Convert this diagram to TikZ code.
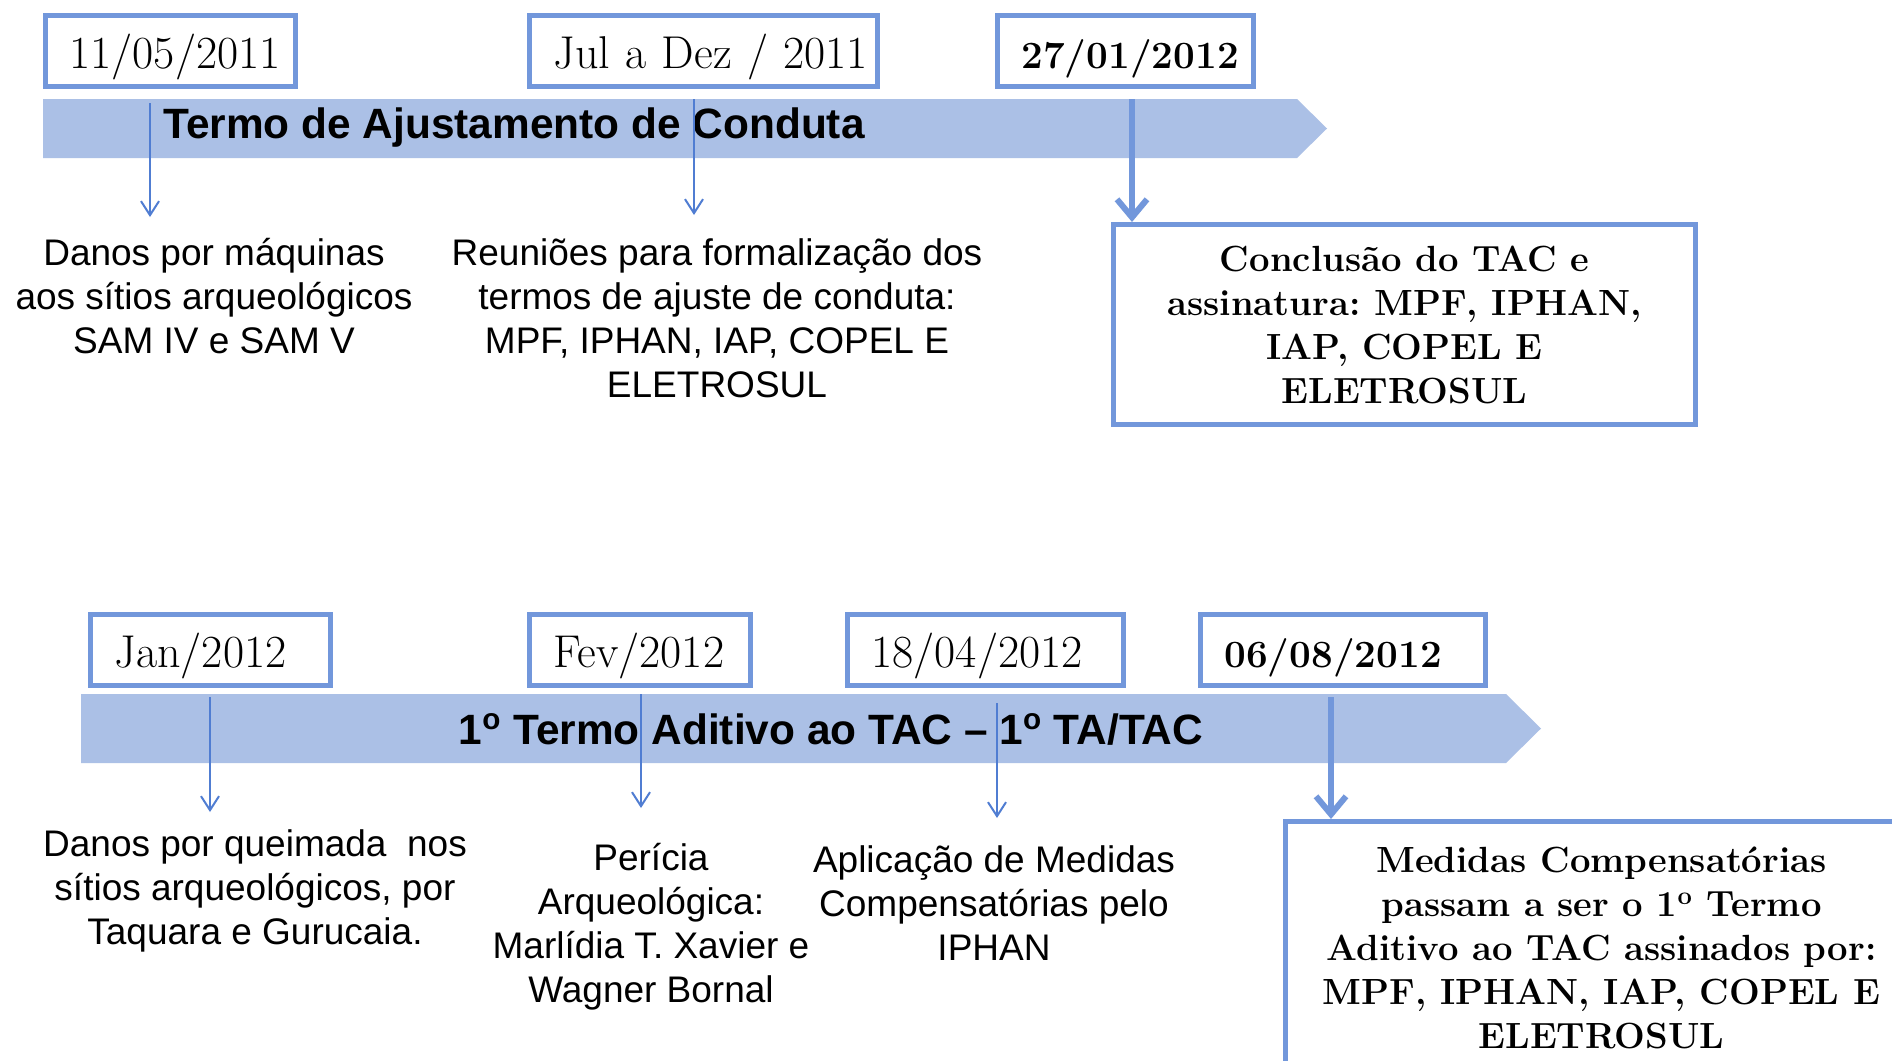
\documentclass[tikz,border=0pt]{standalone}
\usepackage{fontspec}
\newfontfamily\arialf{Liberation Sans}
\usetikzlibrary{arrows.meta}
\definecolor{boxblue}{RGB}{114,151,219}
\definecolor{bannerblue}{RGB}{171,192,230}
\definecolor{arrowblue}{RGB}{80,125,210}
\frenchspacing
\begin{document}
\begin{tikzpicture}[x=0.5pt,y=-0.5pt,
  datebox/.style={draw=boxblue, line width=2.5pt, fill=white, minimum height=35.5pt,
    inner xsep=12pt, inner ysep=0pt, align=left, anchor=north west,
    text height=18.4pt, text depth=0.5pt,
    font=\fontsize{23}{26}\selectfont},
  bolddate/.style={datebox, font=\bfseries\fontsize{19.3}{24}\selectfont},
  resbox/.style={draw=boxblue, line width=2.5pt, fill=white, align=center, anchor=north west,
    inner sep=0pt, font=\bfseries\fontsize{18.2}{22}\selectfont},
  banner/.style={fill=bannerblue, draw=none},
  bannertext/.style={font=\arialf\bfseries\fontsize{21.2}{24}\selectfont, inner sep=0pt},
  desc/.style={font=\arialf\fontsize{18.5}{22}\selectfont, align=center, inner sep=0pt},
  thinarrow/.style={draw=arrowblue, line width=1pt, -{Straight Barb[length=7pt,width=9pt]}},
  thickarrow/.style={draw=boxblue, line width=3pt, -{Straight Barb[length=9pt,width=15pt]}}
]
\useasboundingbox (0,0) rectangle (1892,1061);
\clip (0,0) rectangle (1892,1061);
\fill[white] (0,0) rectangle (1892,1061);

% ---------- top timeline ----------
\path[banner] (43,99) -- (1297,99) -- (1327,128.5) -- (1297,158) -- (43,158) -- cycle;
\node[bannertext] (b1t) at (514,128) {Termo de Ajustamento de Conduta};

\node[datebox, text width=101pt] (d1) at (43,13) {\mbox{11/05/2011}};
\node[datebox, text width=150pt] (d2) at (527,13) {\mbox{Jul a Dez / 2011}};
\node[bolddate, text width=104pt] (d3) at (995,13) {\mbox{27/01/2012}};

\node[desc] (t1) at (214,296) {Danos por máquinas\\aos sítios arqueológicos\\SAM IV e SAM V};
\node[desc] (t2) at (717,318) {Reuniões para formalização dos\\termos de ajuste de conduta:\\MPF, IPHAN, IAP, COPEL E\\ELETROSUL};

\node[resbox, minimum width=291pt, minimum height=100pt] (r1) at (1111,222)
  {Conclusão do TAC e\\assinatura: MPF, IPHAN,\\IAP, COPEL E\\ELETROSUL};

\coordinate (a1s) at (150,103);
\coordinate (a1e) at (150,217);
\coordinate (a2s) at (694,99);
\coordinate (a2e) at (694,215);
\coordinate (a3s) at (1132,99);
\draw[thinarrow] (a1s) -- (a1e);
\draw[thinarrow] (a2s) -- (a2e);
\draw[thickarrow] (a3s) -- (a3s |- r1.north);

% ---------- bottom timeline ----------
\path[banner] (81,694) -- (1506,694) -- (1541,728.5) -- (1506,763) -- (81,763) -- cycle;
\node[bannertext] (b2t) at (831,729) {1\textsuperscript{o} Termo Aditivo ao TAC – 1\textsuperscript{o} TA/TAC};

\node[datebox, text width=96pt] (d4) at (88,612) {\mbox{Jan/2012}};
\node[datebox, text width=86.5pt] (d5) at (527,612) {\mbox{Fev/2012}};
\node[datebox, text width=114pt] (d6) at (845,612) {\mbox{18/04/2012}};
\node[bolddate, text width=118.5pt] (d7) at (1198,612) {\mbox{06/08/2012}};

\node[desc] (t4) at (255,891) {Danos por queimada\ \ nos\\sítios arqueológicos, por\\Taquara e Gurucaia.};
\node[desc] (t5) at (651,927) {Perícia\\Arqueológica:\\Marlídia T. Xavier e\\Wagner Bornal};
\node[desc] (t6) at (994,903) {Aplicação de Medidas\\Compensatórias pelo\\IPHAN};

\node[resbox, minimum width=316pt, minimum height=126.5pt] (r2) at (1283,819)
  {Medidas Compensatórias\\passam a ser o 1\textsuperscript{o} Termo\\Aditivo ao TAC assinados por:\\MPF, IPHAN, IAP, COPEL E\\ELETROSUL};

\coordinate (b1s) at (210,697);
\coordinate (b1e) at (210,812);
\coordinate (b2s) at (641,694);
\coordinate (b2e) at (641,808);
\coordinate (b3s) at (997,703);
\coordinate (b3e) at (997,818);
\coordinate (b4s) at (1331,697);
\draw[thinarrow] (b1s) -- (b1e);
\draw[thinarrow] (b2s) -- (b2e);
\draw[thinarrow] (b3s) -- (b3e);
\draw[thickarrow] (b4s) -- (b4s |- r2.north);
\end{tikzpicture}
\end{document}
